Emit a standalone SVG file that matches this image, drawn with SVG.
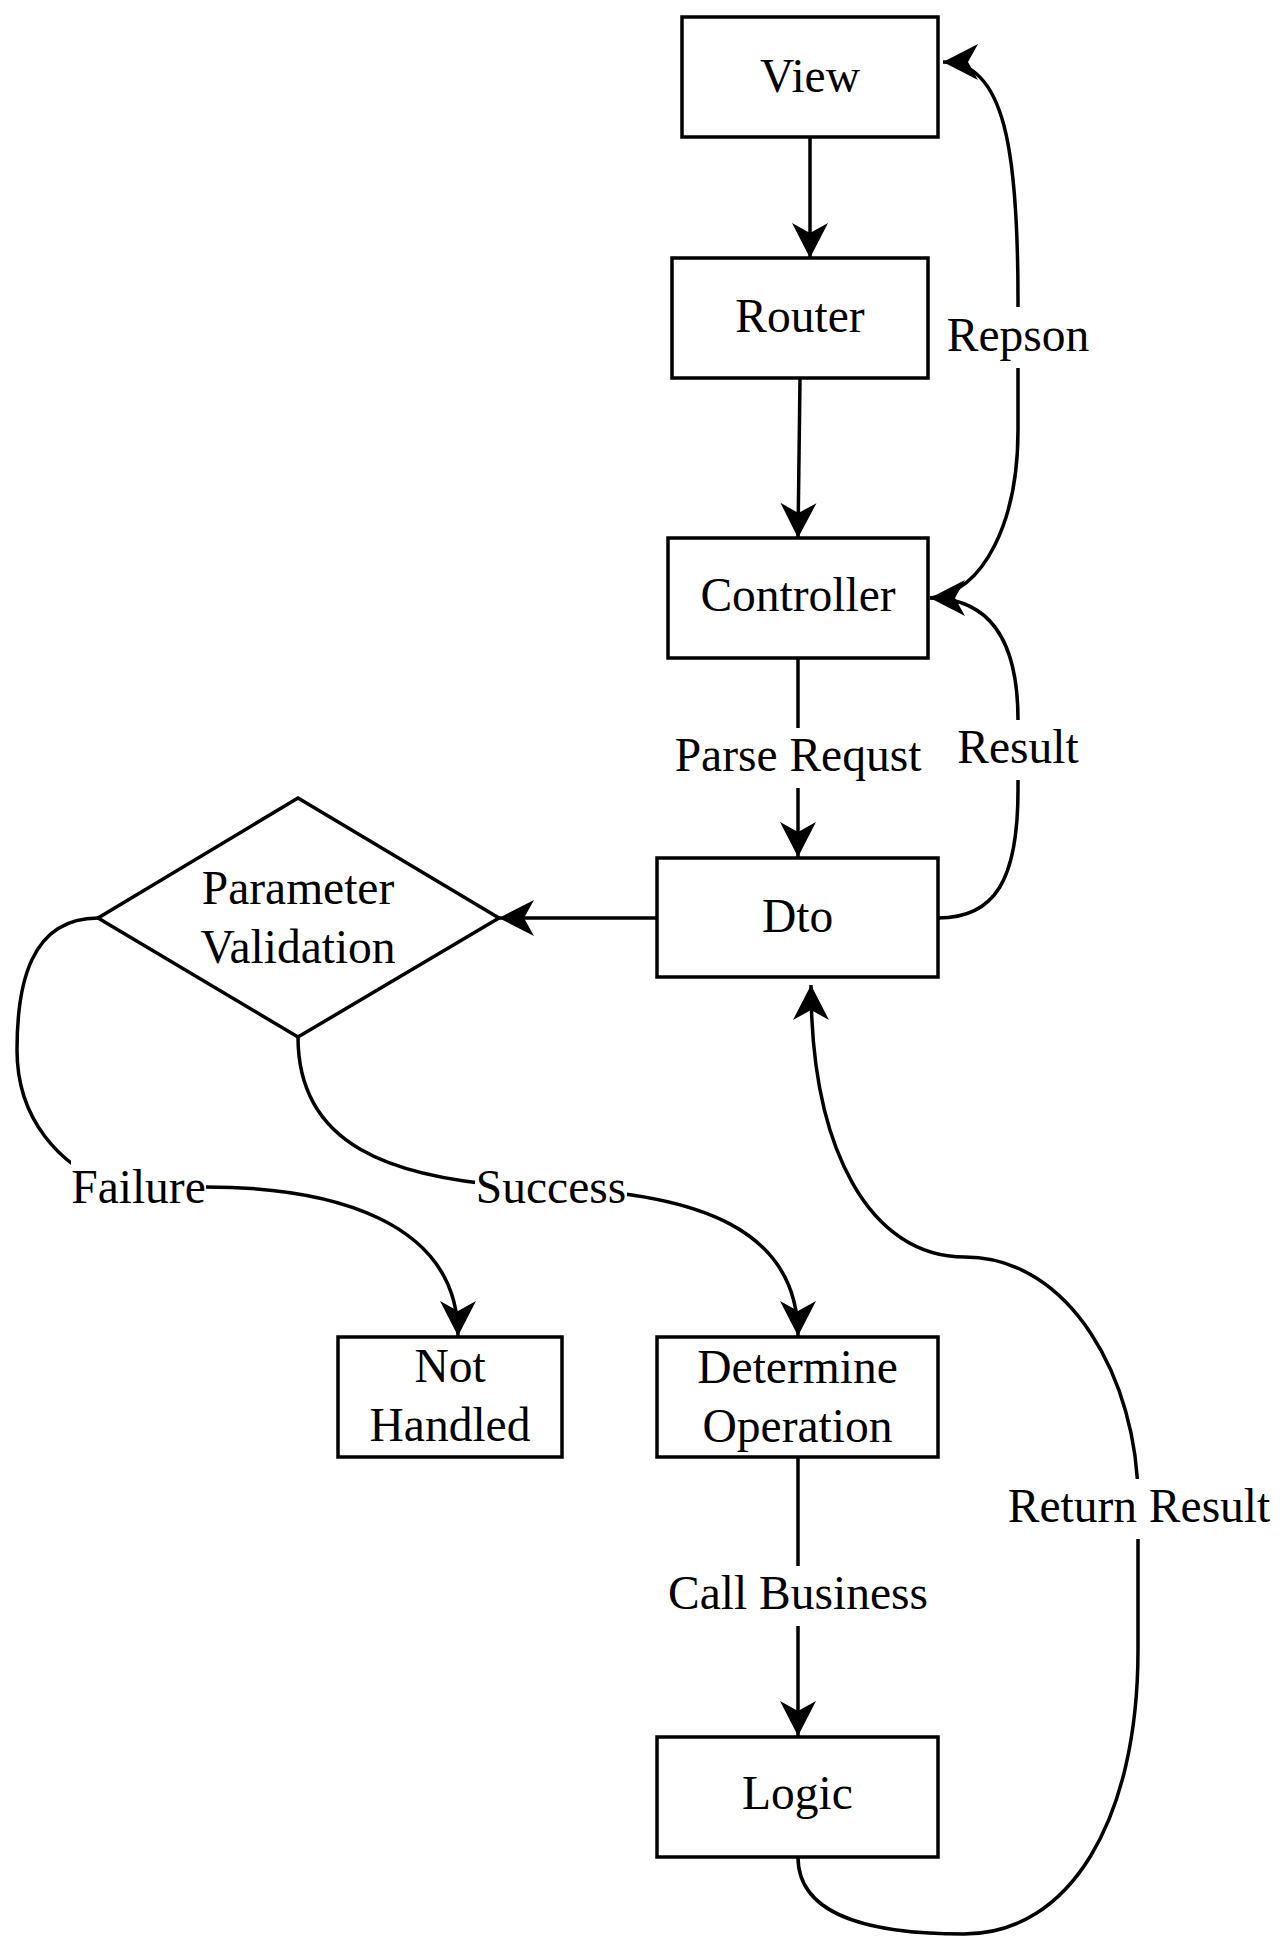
<svg xmlns="http://www.w3.org/2000/svg" width="1288" height="1956" viewBox="0 0 1288 1956">
<style>
.box{fill:#fff;stroke:#000;stroke-width:3.5}
.edge{fill:none;stroke:#000;stroke-width:3.5}
.t{font-family:"Liberation Serif","Times New Roman",serif;font-size:47.5px;fill:#000;text-anchor:middle}
.lbg{fill:#fff}
</style>
<defs>
<marker id="arr" markerUnits="userSpaceOnUse" viewBox="-38 -20 40 40" markerWidth="40" markerHeight="40" refX="0" refY="0" orient="auto">
<path d="M0,0 L-35,-18 L-25,0 L-35,18 Z" fill="#000"/>
</marker>
</defs>
<rect width="1288" height="1956" fill="#fff"/>
<g id="connectors">
<path class="edge" d="M810 137 L810 258" marker-end="url(#arr)"/>
<path class="edge" d="M800 378 L798 538" marker-end="url(#arr)"/>
<path class="edge" d="M798 658 L798 857" marker-end="url(#arr)"/>
<path class="edge" d="M657 918 L499 918" marker-end="url(#arr)"/>
<path class="edge" d="M938 918 C995 918 1018 880 1018 790 L1018 720 C1018 640 990 598 930 598" marker-end="url(#arr)"/>
<path class="edge" d="M930 598 C985 592 1018 520 1018 430 L1018 300 C1018 150 1005 62 943 62" marker-end="url(#arr)"/>
<path class="edge" d="M98 918 C30 918 17 985 17 1050 C17 1120 60 1165 110 1185 L206 1187 C330 1187 458 1220 458 1336" marker-end="url(#arr)"/>
<path class="edge" d="M298 1037 C298 1140 380 1183 550 1188 C700 1193 798 1230 798 1336" marker-end="url(#arr)"/>
<path class="edge" d="M798 1457 L798 1736" marker-end="url(#arr)"/>
<path class="edge" d="M798 1857 C798 1920 880 1934 964 1934 C1070 1934 1138 1820 1138 1650 L1138 1500 C1138 1380 1070 1257 965 1257 C870 1257 811 1150 811 985" marker-end="url(#arr)"/>
<g id="edge-labels">
<rect class="lbg" x="947" y="307" width="142" height="61"/>
<text class="t" x="1018" y="351">Repson</text>
<rect class="lbg" x="957" y="720" width="122" height="60"/>
<text class="t" x="1018" y="763">Result</text>
<rect class="lbg" x="675" y="728" width="246" height="60"/>
<text class="t" x="798" y="771">Parse Requst</text>
<rect class="lbg" x="71" y="1160" width="135" height="58"/>
<text class="t" x="138.5" y="1203">Failure</text>
<rect class="lbg" x="475" y="1160" width="152" height="58"/>
<text class="t" x="551" y="1203">Success</text>
<rect class="lbg" x="668" y="1566" width="260" height="60"/>
<text class="t" x="798" y="1609">Call Business</text>
<rect class="lbg" x="1007" y="1479" width="263" height="60"/>
<text class="t" x="1139" y="1522">Return Result</text>
</g>
</g>
<g id="view">
<rect class="box" x="682" y="17" width="256" height="120"/>
<text class="t" x="810" y="91.5">View</text>
</g>
<g id="router">
<rect class="box" x="672" y="258" width="256" height="120"/>
<text class="t" x="800" y="332">Router</text>
</g>
<g id="controller">
<rect class="box" x="668" y="538" width="260" height="120"/>
<text class="t" x="798" y="611">Controller</text>
</g>
<g id="dto">
<rect class="box" x="657" y="858" width="281" height="119"/>
<text class="t" x="797.5" y="932">Dto</text>
</g>
<g id="validation">
<polygon class="box" points="298,798 499,918 298,1037 98,918"/>
<text class="t" x="298" y="904">Parameter</text>
<text class="t" x="298" y="963">Validation</text>
</g>
<g id="not-handled">
<rect class="box" x="338" y="1337" width="224" height="120"/>
<text class="t" x="450" y="1382">Not</text>
<text class="t" x="450" y="1441">Handled</text>
</g>
<g id="determine">
<rect class="box" x="657" y="1337" width="281" height="120"/>
<text class="t" x="797.5" y="1383">Determine</text>
<text class="t" x="797.5" y="1442">Operation</text>
</g>
<g id="logic">
<rect class="box" x="657" y="1737" width="281" height="120"/>
<text class="t" x="797.5" y="1809">Logic</text>
</g>
</svg>
